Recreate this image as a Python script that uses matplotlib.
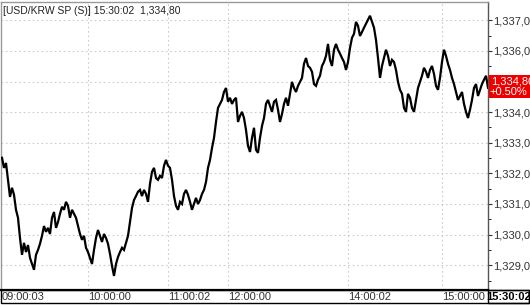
import matplotlib.pyplot as plt
from matplotlib.patches import Rectangle
from matplotlib.transforms import blended_transform_factory

plt.rcParams['font.family'] = ['Liberation Sans', 'DejaVu Sans']

# данные: цена USD/KRW, одна точка примерно на 2 пикселя
price = [
    1332.51, 1332.18, 1332.34, 1331.79, 1331.23, 1331.53, 1331.30, 1330.81, 1330.55, 1329.89,
    1329.34, 1329.73, 1329.43, 1329.66, 1329.24, 1329.04, 1328.85, 1329.34, 1329.50, 1329.70,
    1329.96, 1330.28, 1330.09, 1330.22, 1330.02, 1330.55, 1330.74, 1330.22, 1330.41, 1330.68,
    1330.91, 1330.81, 1331.07, 1330.94, 1330.55, 1330.81, 1330.68, 1330.55, 1330.28, 1330.02,
    1329.83, 1329.96, 1329.57, 1329.43, 1329.24, 1329.04, 1329.50, 1329.89, 1330.15, 1329.96,
    1329.76, 1330.02, 1329.89, 1329.70, 1329.37, 1328.98, 1328.65, 1329.04, 1329.27, 1329.43,
    1329.57, 1329.50, 1329.73, 1329.96, 1330.41, 1330.87, 1331.13, 1331.26, 1331.40, 1331.46,
    1331.26, 1331.46, 1331.33, 1331.07, 1331.66, 1332.05, 1332.18, 1331.85, 1331.79, 1331.92,
    1331.85, 1332.25, 1332.44, 1332.25, 1332.18, 1331.79, 1331.26, 1330.94, 1330.81, 1331.07,
    1331.00, 1331.33, 1331.46, 1331.30, 1331.07, 1330.81, 1331.00, 1331.20, 1331.00, 1331.13,
    1331.33, 1331.46, 1331.72, 1332.18, 1332.44, 1332.83, 1333.16, 1333.68, 1334.14, 1334.27,
    1334.40, 1334.66, 1334.79, 1334.34, 1334.47, 1334.27, 1334.40, 1334.47, 1333.68, 1333.88,
    1334.01, 1333.81, 1333.42, 1332.90, 1332.70, 1333.16, 1333.49, 1332.77, 1332.67, 1333.16,
    1333.55, 1333.81, 1334.27, 1334.40, 1334.21, 1334.01, 1334.34, 1334.40, 1334.08, 1333.68,
    1333.94, 1334.27, 1334.47, 1334.21, 1334.60, 1334.99, 1334.79, 1334.66, 1334.86, 1334.99,
    1335.12, 1335.58, 1335.77, 1335.51, 1335.45, 1335.32, 1334.92, 1334.86, 1335.06, 1335.19,
    1335.51, 1335.64, 1335.84, 1336.23, 1335.71, 1335.51, 1336.04, 1336.23, 1336.04, 1335.91,
    1335.77, 1335.64, 1335.38, 1335.64, 1336.10, 1336.43, 1336.56, 1336.95, 1336.82, 1336.49,
    1336.62, 1336.76, 1336.89, 1337.02, 1337.15, 1336.95, 1336.76, 1336.36, 1335.77, 1335.12,
    1335.51, 1335.77, 1336.04, 1335.84, 1335.51, 1335.71, 1335.64, 1335.38, 1334.99, 1334.73,
    1334.60, 1334.14, 1334.01, 1334.60, 1334.47, 1334.14, 1334.01, 1334.40, 1334.79, 1334.99,
    1335.19, 1335.45, 1335.32, 1335.12, 1335.38, 1335.51, 1335.25, 1334.86, 1334.73, 1335.12,
    1335.64, 1336.04, 1335.84, 1335.58, 1335.38, 1335.12, 1334.92, 1334.66, 1334.40, 1334.53,
    1334.66, 1334.27, 1334.01, 1333.81, 1334.08, 1334.40, 1334.79, 1334.92, 1334.53, 1334.73,
    1334.92, 1335.06, 1335.19, 1334.80,
]
time_idx = [0, 43, 83, 113, 173, 220]
time_labels = ["09:00:03", "10:00:00", "11:00:02", "12:00:00", "14:00:02", "15:00:00"]
last_time = "15:30:02"
y_levels = [1329, 1330, 1331, 1332, 1333, 1334, 1335, 1336, 1337]
y_labels = ["1,329,00", "1,330,00", "1,331,00", "1,332,00", "1,333,00",
            "1,334,00", "1,335,00", "1,336,00", "1,337,00"]
title = "[USD/KRW SP (S)] 15:30:02  1,334,80"
last_text = "1,334,80"
change_text = "+0.50%"

W, H = 530, 305
fig = plt.figure(figsize=(W / 100, H / 100), dpi=100)
# область графика в пикселях: x 1..488, y 2..290
ax = fig.add_axes([1 / W, (H - 290) / H, 487 / W, 288 / H])

x = list(range(len(price)))
ax.plot(x, price, color="black", lw=1.6, zorder=3, solid_joinstyle="miter")

ax.set_xlim(-0.5, len(price) - 1)
ax.set_ylim(1328.19, 1337.60)

# сетка
for v in y_levels:
    ax.axhline(v, color="#cccccc", lw=0.8, ls=(0, (1.5, 2.5)), zorder=1)
for i in time_idx[1:]:
    ax.axvline(i, color="#cccccc", lw=0.8, ls=(0, (1.5, 2.5)), zorder=1)

# правая ось
ax.yaxis.tick_right()
ax.set_yticks(y_levels)
ax.set_yticklabels(y_labels)
ax.set_yticks([v + 0.5 for v in y_levels[:-1]] + [y_levels[0] - 0.5], minor=True)
ax.tick_params(axis="y", which="major", direction="out", length=3, width=0.8,
               pad=1, labelsize=8, colors="#333333")
ax.tick_params(axis="y", which="minor", direction="out", length=2, width=0.6)
ax.set_xticks([])

for s in ["left", "top"]:
    ax.spines[s].set_color("#999999")
    ax.spines[s].set_linewidth(1.0)
ax.spines["right"].set_color("#555555")
ax.spines["right"].set_linewidth(1.0)
ax.spines["bottom"].set_color("black")
ax.spines["bottom"].set_linewidth(1.6)

# подписи времени под графиком (левый край у линии сетки)
trans_x = blended_transform_factory(ax.transData, fig.transFigure)
for i, lab in zip(time_idx, time_labels):
    ax.text(i, (H - 297) / H, lab, transform=trans_x, ha="left", va="center",
            fontsize=8, color="#333333", clip_on=False)

# рамка нижней полосы и последнее время
fig.patches.append(Rectangle((1 / W, (H - 303) / H), 528 / W, 13 / H,
                             transform=fig.transFigure, fill=False,
                             edgecolor="black", lw=1.0))
fig.patches.append(Rectangle((488 / W, (H - 303) / H), 41 / W, 13 / H,
                             transform=fig.transFigure, fill=False,
                             edgecolor="black", lw=1.0))
fig.text(509 / W, (H - 297) / H, last_time, ha="center", va="center",
         fontsize=8, fontweight="bold", color="black")

# заголовок
fig.text(3 / W, (H - 11) / H, title, ha="left", va="center",
         fontsize=7.5, color="#222222")

# красная метка последней цены
last = price[-1]
trans_y = blended_transform_factory(fig.transFigure, ax.transData)
fig.patches.append(Rectangle((489 / W, last - 0.33), 41 / W, 0.74,
                             transform=trans_y, facecolor="#ee0000",
                             edgecolor="none", zorder=5))
fig.text(491 / W, last + 0.21, last_text, transform=trans_y, ha="left",
         va="center", fontsize=8, color="white", zorder=6)
fig.text(508 / W, last - 0.13, change_text, transform=trans_y, ha="center",
         va="center", fontsize=8, color="white", zorder=6)

fig.savefig("out.png", dpi=100, facecolor="white")
